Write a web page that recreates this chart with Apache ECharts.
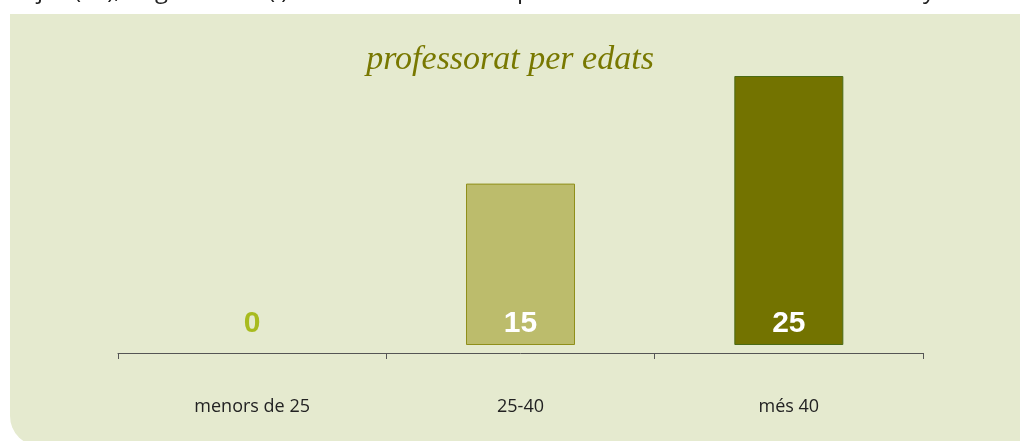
<!DOCTYPE html>
<html>
<head>
<meta charset="utf-8">
<script src="https://cdn.jsdelivr.net/npm/echarts@6/dist/echarts.min.js"></script>
<style>
  html, body { margin: 0; padding: 0; background: #ffffff; }
  #chart { width: 1020px; height: 441px; }
</style>
</head>
<body>
<div id="chart"></div>
<script>
// age groups and number of teachers
var categories = ['menors de 25', '25-40', 'més 40'];
var values = [0, 15, 25];
var barColors = ['#bcbc6c', '#bcbc6c', '#737300'];
var borderColors = ['#8f8f1a', '#8f8f1a', '#4b6b14'];
var labelColors = ['#a8bb1e', '#ffffff', '#ffffff'];

var chart = echarts.init(document.getElementById('chart'));

var seriesData = values.map(function (v, i) {
    return {
        value: v,
        itemStyle: { color: barColors[i], borderColor: borderColors[i], borderWidth: v ? 1 : 0 },
        label: { color: labelColors[i] }
    };
});

var pageFont = '24px "Open Sans"';

var option = {
    backgroundColor: '#ffffff',
    animation: false,
    graphic: [
        {
            type: 'rect',
            z: -10,
            shape: { x: 10, y: 14, width: 1040, height: 432, r: [0, 30, 0, 30] },
            style: { fill: '#e5eacf' }
        },
        // bits of the page text cut off above the panel
        { type: 'text', x: 37, y: -21, z: -5, style: { text: 'j', font: pageFont, fill: '#222' } },
        { type: 'text', x: 74, y: -21, z: -5, style: { text: '( %),', font: pageFont, fill: '#222' } },
        { type: 'text', x: 155, y: -21, z: -5, style: { text: 'g', font: pageFont, fill: '#222' } },
        { type: 'text', x: 268, y: -21, z: -5, style: { text: '( )', font: pageFont, fill: '#222' } },
        { type: 'text', x: 517, y: -21, z: -5, style: { text: 'p', font: pageFont, fill: '#222' } },
        { type: 'text', x: 923, y: -21, z: -5, style: { text: 'y', font: pageFont, fill: '#222' } }
    ],
    title: {
        text: 'professorat per edats',
        left: 'center',
        top: 38,
        textStyle: {
            fontFamily: '"Liberation Serif"',
            fontStyle: 'italic',
            fontWeight: 'normal',
            fontSize: 34,
            color: '#787800'
        }
    },
    grid: { left: 118, right: 97, top: 76, bottom: 96 },
    xAxis: {
        type: 'category',
        data: categories,
        offset: 8,
        axisLine: { onZero: false, lineStyle: { color: '#555555', width: 1 } },
        axisTick: { show: true, length: 6, inside: false, lineStyle: { color: '#555555' } },
        axisLabel: {
            margin: 45,
            fontFamily: '"Open Sans"',
            fontSize: 18,
            color: '#222222'
        }
    },
    yAxis: {
        type: 'value',
        min: 0,
        max: 25,
        show: false,
        splitLine: { show: false }
    },
    series: [{
        type: 'bar',
        data: seriesData,
        barWidth: 109,
        label: {
            show: true,
            position: 'insideBottom',
            distance: 6,
            fontFamily: '"Liberation Sans"',
            fontWeight: 'bold',
            fontSize: 30
        }
    }]
};

chart.setOption(option);
</script>
</body>
</html>
